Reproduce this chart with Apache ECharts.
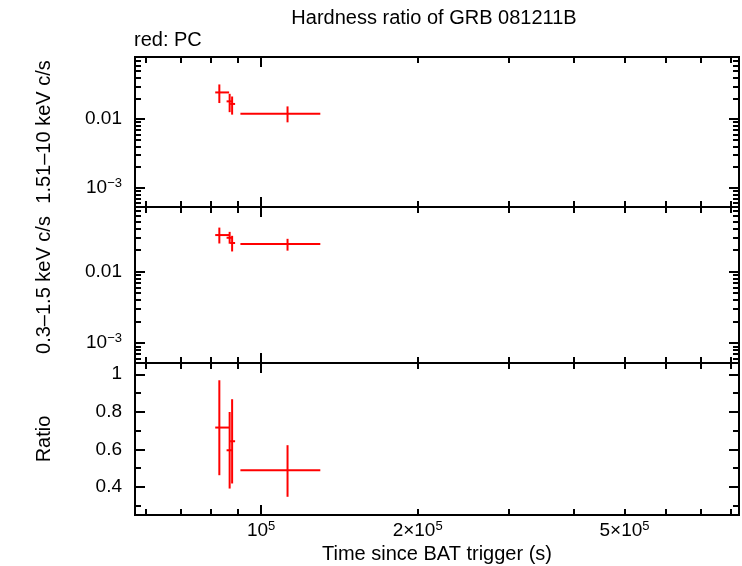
<!DOCTYPE html>
<html><head><meta charset="utf-8">
<script src="https://cdn.jsdelivr.net/npm/echarts@6/dist/echarts.min.js"></script>
<style>html,body{margin:0;padding:0;background:#fff}#c{width:742px;height:566px}</style>
</head><body><div id="c"></div>
<script>
const titleText = 'Hardness ratio of GRB 081211B';
const subtitleText = 'red: PC';
const xName = 'Time since BAT trigger (s)';
const panelNames = ['1.51\u201310 keV c/s', '0.3\u20131.5 keV c/s', 'Ratio'];

// data (time in s since trigger)
const times  = [83100, 86980, 87940, 112400];
const timeLo = [81600, 85810, 87170, 91230];
const timeHi = [86780, 88120, 89110, 129960];

const hardRate = [0.0244, 0.0181, 0.0166, 0.01197];
const hardLo   = [0.0171, 0.0126, 0.0116, 0.00896];
const hardHi   = [0.0319, 0.0233, 0.0213, 0.01528];

const softRate = [0.0324, 0.0297, 0.0251, 0.0243];
const softLo   = [0.0247, 0.0245, 0.0191, 0.0196];
const softHi   = [0.0412, 0.0359, 0.0316, 0.0287];

const ratio   = [0.716, 0.595, 0.643, 0.489];
const ratioLo = [0.462, 0.391, 0.418, 0.347];
const ratioHi = [0.968, 0.799, 0.867, 0.622];

// axes
const xRange = [57200, 830000];
const rateRange = [5.25e-4, 0.08];
const ratioRange = [0.25, 1.06];
const xMajorTicks = [1e5];
const xMinorTicks = [6e4, 7e4, 8e4, 9e4, 2e5, 3e5, 4e5, 5e5, 6e5, 7e5, 8e5];
const xTickLabels = [1e5, 2e5, 5e5];
const rateMajorTicks = [1e-3, 1e-2];
const rateMinorTicks = [6e-4, 7e-4, 8e-4, 9e-4, 2e-3, 3e-3, 4e-3, 5e-3, 6e-3, 7e-3, 8e-3, 9e-3, 2e-2, 3e-2, 4e-2, 5e-2, 6e-2, 7e-2, 8e-2];
const rateTickLabels = [1e-3, 1e-2];
const ratioMajorTicks = [0.4, 0.6, 0.8, 1.0];
const ratioMinorTicks = [0.3, 0.5, 0.7, 0.9];
const ratioTickLabels = [0.4, 0.6, 0.8, 1];

const FONT = 'Liberation Sans';
const supStyle = {fontSize: 13, verticalAlign: 'bottom', padding: [0, 0, 9, 0], fontFamily: FONT, color: '#000'};

function xLabelFmt(v) {
  const e = Math.floor(Math.log10(v) + 1e-9);
  const m = Math.round(v / Math.pow(10, e));
  return (m === 1 ? '10' : m + '\u00d710') + '{sup|' + e + '}';
}
function rateLabelFmt(v) {
  if (Math.abs(v - 0.01) < 1e-9) return '0.01';
  const e = Math.round(Math.log10(v));
  return '10{sup|' + (e < 0 ? '\u2212' + (-e) : e) + '}';
}
function ratioLabelFmt(v) { return String(Math.round(v * 10) / 10); }

const grids = [
  {left: 135, right: 3, top: 57, height: 150},
  {left: 135, right: 3, top: 207, height: 156},
  {left: 135, right: 3, top: 363, height: 152}
].map(g => Object.assign(g, {show: true, borderColor: '#000', borderWidth: 2, backgroundColor: 'transparent'}));

const tickLine = {color: '#000', width: 2};
const lblBase = {fontFamily: FONT, fontSize: 19, color: '#000', rich: {sup: supStyle}};

function axisSet(dim, gi, cfg) {
  const positions = dim === 'x' ? ['bottom', 'top'] : ['left', 'right'];
  const out = [];
  positions.forEach((pos, pi) => {
    [true, false].forEach(major => {
      const a = {
        type: cfg.type, gridIndex: gi, position: pos,
        min: cfg.range[0], max: cfg.range[1],
        splitLine: {show: false},
        axisLine: {show: true, lineStyle: {color: '#000', width: 2}},
        axisTick: {show: true, inside: true, length: major ? 10 : 6, lineStyle: tickLine,
                   customValues: major ? cfg.major : cfg.minor},
        axisLabel: {show: false}
      };
      if (cfg.type === 'log') a.logBase = 10;
      if (pi === 0 && major) {
        if (cfg.labels) {
          a.axisLabel = Object.assign({show: true, customValues: cfg.labels, formatter: cfg.fmt, margin: cfg.margin}, lblBase);
        }
        if (cfg.name) {
          a.name = cfg.name; a.nameLocation = 'middle'; a.nameGap = cfg.nameGap;
          a.nameTextStyle = {fontFamily: FONT, fontSize: 20, color: '#000'};
        }
      }
      out.push(a);
    });
  });
  return out;
}

const xAxes = [], yAxes = [];
for (let gi = 0; gi < 3; gi++) {
  xAxes.push(...axisSet('x', gi, {type: 'log', range: xRange, major: xMajorTicks, minor: xMinorTicks,
    labels: gi === 2 ? xTickLabels : null, fmt: xLabelFmt, margin: 5,
    name: gi === 2 ? xName : null, nameGap: 29}));
  if (gi < 2) {
    yAxes.push(...axisSet('y', gi, {type: 'log', range: rateRange, major: rateMajorTicks, minor: rateMinorTicks,
      labels: rateTickLabels, fmt: rateLabelFmt, margin: 13, name: panelNames[gi], nameGap: 81}));
  } else {
    yAxes.push(...axisSet('y', gi, {type: 'value', range: ratioRange, major: ratioMajorTicks, minor: ratioMinorTicks,
      labels: ratioTickLabels, fmt: ratioLabelFmt, margin: 13, name: panelNames[gi], nameGap: 81}));
  }
}

function renderErr(params, api) {
  const x = api.value(0), y = api.value(3);
  const l = api.coord([api.value(1), y]);
  const r = api.coord([api.value(2), y]);
  const b = api.coord([x, api.value(4)]);
  const t = api.coord([x, api.value(5)]);
  const style = {stroke: '#ff0000', lineWidth: 2};
  return {type: 'group', children: [
    {type: 'line', shape: {x1: l[0], y1: l[1], x2: r[0], y2: r[1]}, style: style},
    {type: 'line', shape: {x1: b[0], y1: b[1], x2: t[0], y2: t[1]}, style: style}
  ]};
}

function mkSeries(gi, v, lo, hi) {
  return {
    type: 'custom', xAxisIndex: gi * 4, yAxisIndex: gi * 4,
    renderItem: renderErr, clip: true,
    encode: {x: [0, 1, 2], y: [3, 4, 5]},
    data: times.map((t, i) => [t, timeLo[i], timeHi[i], v[i], lo[i], hi[i]])
  };
}

const chart = echarts.init(document.getElementById('c'), null, {renderer: 'canvas'});
chart.setOption({
  animation: false,
  backgroundColor: '#fff',
  title: [
    {text: titleText, left: 434, top: 8, padding: 0, textAlign: 'center',
     textStyle: {fontFamily: FONT, fontSize: 20, fontWeight: 'normal', color: '#000'}},
    {text: subtitleText, left: 134, top: 30, padding: 0,
     textStyle: {fontFamily: FONT, fontSize: 20, fontWeight: 'normal', color: '#000'}}
  ],
  grid: grids,
  xAxis: xAxes,
  yAxis: yAxes,
  series: [
    mkSeries(0, hardRate, hardLo, hardHi),
    mkSeries(1, softRate, softLo, softHi),
    mkSeries(2, ratio, ratioLo, ratioHi)
  ]
});
</script>
</body></html>
